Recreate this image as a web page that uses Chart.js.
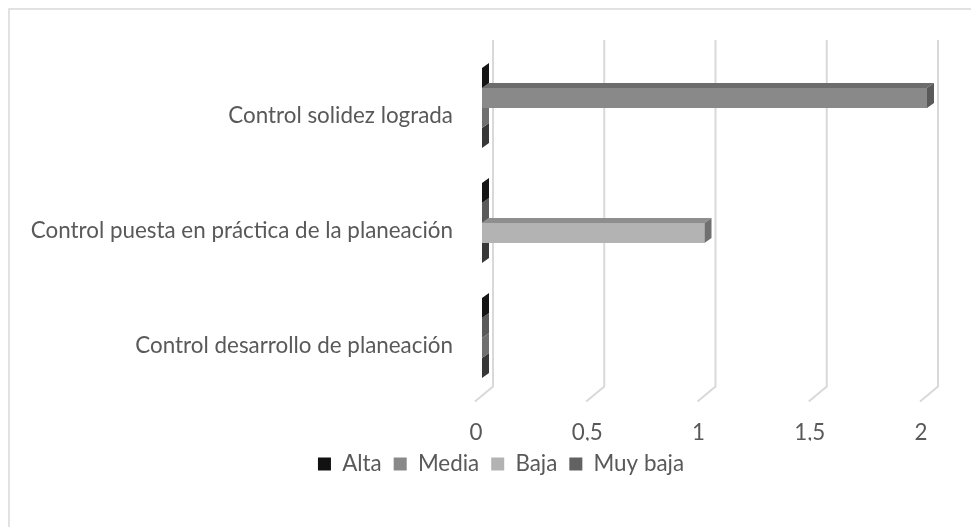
<!DOCTYPE html>
<html>
<head>
<meta charset="utf-8">
<script src="https://cdn.jsdelivr.net/npm/chart.js@4.4.1/dist/chart.umd.min.js"></script>
<style>
  html, body { margin: 0; padding: 0; background: #ffffff; }
  #wrap { width: 971px; height: 527px; position: relative; }
</style>
</head>
<body>
<div id="wrap"><canvas id="chart" width="971" height="527"></canvas></div>
<script>
// Categories (top to bottom) and the four rating series
const categories = [
  'Control solidez lograda',
  'Control puesta en práctica de la planeación',
  'Control desarrollo de planeación'
];
const seriesNames = ['Alta', 'Media', 'Baja', 'Muy baja'];
const alta    = [0, 0, 0];
const media   = [2, 0, 0];
const baja    = [0, 1, 0];
const muyBaja = [0, 0, 0];

// Value axis ticks
const xTicks = [0, 0.5, 1, 1.5, 2];
const xTickLabels = ['0', '0,5', '1', '1,5', '2'];

// Shades for the front, top and end faces of each series' bars
const faceColors = [
  { front: '#111111', top: '#2a2a2a', side: '#151515' },
  { front: '#898989', top: '#6c6c6c', side: '#5a5a5a' },
  { front: '#b3b3b3', top: '#8e8e8e', side: '#707070' },
  { front: '#626262', top: '#4a4a4a', side: '#383838' }
];

const TEXT_COLOR = '#595959';
const FONT_FAMILY = 'Lato, "Open Sans", sans-serif';
const FONT_SIZE = 22.4;

// 3D offsets (pixels)
const DEPTH_X = 7, DEPTH_Y = -5;     // bar depth
const WALL_X = 11;                   // back wall relative to the bar plane
const FLOOR_DX = -18, FLOOR_DY = 15; // floor slant of the grid lines
const LEGEND_SHIFT = 33;             // legend sits a little right of centre

const frameAnd3d = {
  id: 'frameAnd3d',
  afterLayout(chart) {
    if (chart.legend) {
      chart.legend.left += LEGEND_SHIFT;
      chart.legend.right += LEGEND_SHIFT;
    }
  },
  beforeDraw(chart) {
    const ctx = chart.ctx;
    ctx.save();
    ctx.fillStyle = '#ffffff';
    ctx.fillRect(0, 0, chart.width, chart.height);
    ctx.strokeStyle = '#d9d9d9';
    ctx.lineWidth = 1.5;
    ctx.strokeRect(9, 9, chart.width + 20, chart.height + 20);
    ctx.restore();
  },
  beforeDatasetsDraw(chart) {
    const ctx = chart.ctx;
    const xs = chart.scales.x;
    const area = chart.chartArea;
    const yTop = area.top - 10.5;
    const yBottom = area.bottom - 9;
    ctx.save();
    ctx.strokeStyle = '#d9d9d9';
    ctx.lineWidth = 2;
    xTicks.forEach(v => {
      const xb = xs.getPixelForValue(v) + WALL_X;
      ctx.beginPath();
      ctx.moveTo(xb, yTop);
      ctx.lineTo(xb, yBottom);
      ctx.lineTo(xb + FLOOR_DX, yBottom + FLOOR_DY);
      ctx.stroke();
    });
    ctx.restore();
  },
  afterDatasetDraw(chart, args) {
    const ctx = chart.ctx;
    const c = faceColors[args.index];
    ctx.save();
    args.meta.data.forEach(bar => {
      const p = bar.getProps(['x', 'y', 'base', 'height'], true);
      const top = p.y - p.height / 2;
      const bottom = p.y + p.height / 2;
      const left = Math.min(p.base, p.x);
      const right = Math.max(p.base, p.x);
      if (right - left > 0.5) {
        ctx.fillStyle = c.top;
        ctx.beginPath();
        ctx.moveTo(left, top);
        ctx.lineTo(right, top);
        ctx.lineTo(right + DEPTH_X, top + DEPTH_Y);
        ctx.lineTo(left + DEPTH_X, top + DEPTH_Y);
        ctx.closePath();
        ctx.fill();
      }
      ctx.fillStyle = c.side;
      ctx.beginPath();
      ctx.moveTo(right, top);
      ctx.lineTo(right + DEPTH_X, top + DEPTH_Y);
      ctx.lineTo(right + DEPTH_X, bottom + DEPTH_Y);
      ctx.lineTo(right, bottom);
      ctx.closePath();
      ctx.fill();
    });
    ctx.restore();
  }
};

const seriesData = [alta, media, baja, muyBaja];

new Chart(document.getElementById('chart'), {
  type: 'bar',
  data: {
    labels: categories,
    datasets: seriesNames.map((name, i) => ({
      label: name,
      data: seriesData[i],
      backgroundColor: faceColors[i].front,
      borderWidth: 0,
      categoryPercentage: 0.696,
      barPercentage: 1
    }))
  },
  options: {
    indexAxis: 'y',
    responsive: false,
    animation: false,
    layout: { padding: { top: 50.5, left: 9, right: 44, bottom: 41.8 } },
    scales: {
      x: {
        min: 0,
        max: 2,
        afterBuildTicks: s => { s.ticks = xTicks.map(v => ({ value: v })); },
        afterFit: s => { s.height = 45.3; },
        grid: { display: false, drawTicks: false },
        border: { display: false },
        ticks: {
          callback: (v, i) => xTickLabels[i],
          color: TEXT_COLOR,
          font: { family: FONT_FAMILY, size: FONT_SIZE },
          padding: 24,
          labelOffset: -6,
          maxRotation: 0
        }
      },
      y: {
        afterFit: s => { s.width = 473; },
        grid: { display: false, drawTicks: false },
        border: { display: false },
        ticks: {
          color: TEXT_COLOR,
          font: { family: FONT_FAMILY, size: FONT_SIZE },
          padding: 29,
          labelOffset: 8
        }
      }
    },
    plugins: {
      tooltip: { enabled: false },
      legend: {
        position: 'bottom',
        labels: {
          color: TEXT_COLOR,
          font: { family: FONT_FAMILY, size: FONT_SIZE },
          boxWidth: 13,
          boxHeight: 13,
          padding: 12
        }
      }
    }
  },
  plugins: [frameAnd3d]
});
</script>
</body>
</html>
